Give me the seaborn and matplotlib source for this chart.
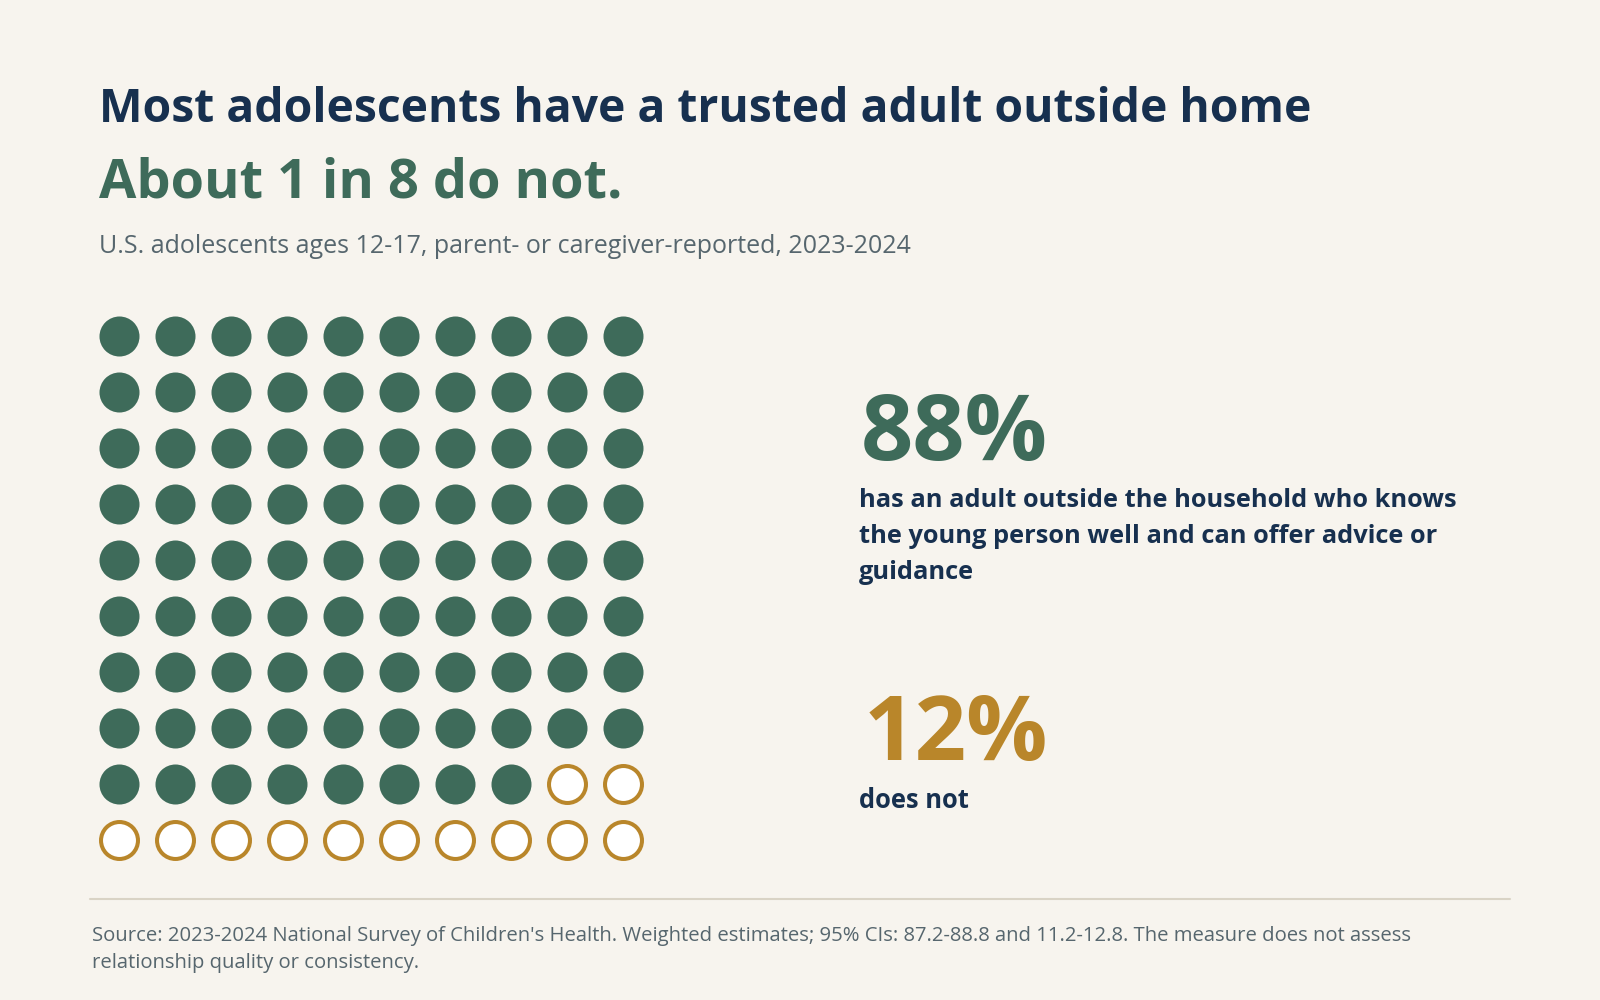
import numpy as np
import pandas as pd
import matplotlib
matplotlib.use("Agg")
import matplotlib.pyplot as plt
import seaborn as sns

# ---- data ----
categories = ["Has trusted adult", "Does not"]
shares = [88, 12]
grid_cols = 10
grid_rows = 10

title = "Most adolescents have a trusted adult outside home"
headline = "About 1 in 8 do not."
subtitle = "U.S. adolescents ages 12-17, parent- or caregiver-reported, 2023-2024"
stat_labels = ["88%", "12%"]
stat_lines_yes = ["has an adult outside the household who knows",
                  "the young person well and can offer advice or",
                  "guidance"]
stat_lines_no = ["does not"]
source_lines = ["Source: 2023-2024 National Survey of Children's Health. Weighted estimates; 95% CIs: 87.2-88.8 and 11.2-12.8. The measure does not assess",
                "relationship quality or consistency."]

# ---- styles ----
BG = "#f7f4ee"
GREEN = "#3e6b5a"
GOLD = "#b9862a"
NAVY = "#17304f"
GREY = "#56666e"
RULE = "#d9d3c5"

sns.set_theme(style="white")
plt.rcParams["font.family"] = ["Open Sans", "DejaVu Sans"]

# build waffle table from shares
status = []
for cat, n in zip(categories, shares):
    status += [cat] * n
idx = np.arange(grid_cols * grid_rows)
df = pd.DataFrame({
    "col": idx % grid_cols,
    "row": idx // grid_cols,
    "status": status,
})

fig = plt.figure(figsize=(16, 10), dpi=100)
fig.patch.set_facecolor(BG)

ax = fig.add_axes([0.0571, 0.132, 0.35, 0.56])
ax.set_facecolor(BG)

sns.scatterplot(data=df[df.status == categories[0]], x="col", y="row",
                marker="o", s=830, color=GREEN, linewidth=0, ax=ax, legend=False)
sns.scatterplot(data=df[df.status == categories[1]], x="col", y="row",
                marker="o", s=708, facecolor="white", edgecolor=GOLD,
                linewidth=2.9, ax=ax, legend=False)
ax.set_xlim(-0.5, grid_cols - 0.5)
ax.set_ylim(grid_rows - 0.5, -0.5)
ax.set_axis_off()

# ---- text ----
fig.text(0.062, 0.8775, title, fontsize=33.3, fontweight="bold", color=NAVY)
fig.text(0.062, 0.803, headline, fontsize=39, fontweight="bold", color=GREEN)
fig.text(0.062, 0.747, subtitle, fontsize=18, color=GREY)

fig.text(0.538, 0.54, stat_labels[0], fontsize=66, fontweight="bold", color=GREEN)
for i, line in enumerate(stat_lines_yes):
    fig.text(0.537, 0.493 - i * 0.036, line, fontsize=18.3, fontweight="bold", color=NAVY)
fig.text(0.540, 0.24, stat_labels[1], fontsize=65, fontweight="bold", color=GOLD)
for i, line in enumerate(stat_lines_no):
    fig.text(0.537, 0.192 - i * 0.036, line, fontsize=18.4, fontweight="bold", color=NAVY)

fig.add_artist(plt.Line2D([0.056, 0.944], [0.101, 0.101], color=RULE, lw=1.5,
                          transform=fig.transFigure))
fig.text(0.0575, 0.059, source_lines[0], fontsize=14.6, color=GREY)
fig.text(0.0575, 0.032, source_lines[1], fontsize=14.6, color=GREY)

fig.savefig("out.png", dpi=100, facecolor=BG)
